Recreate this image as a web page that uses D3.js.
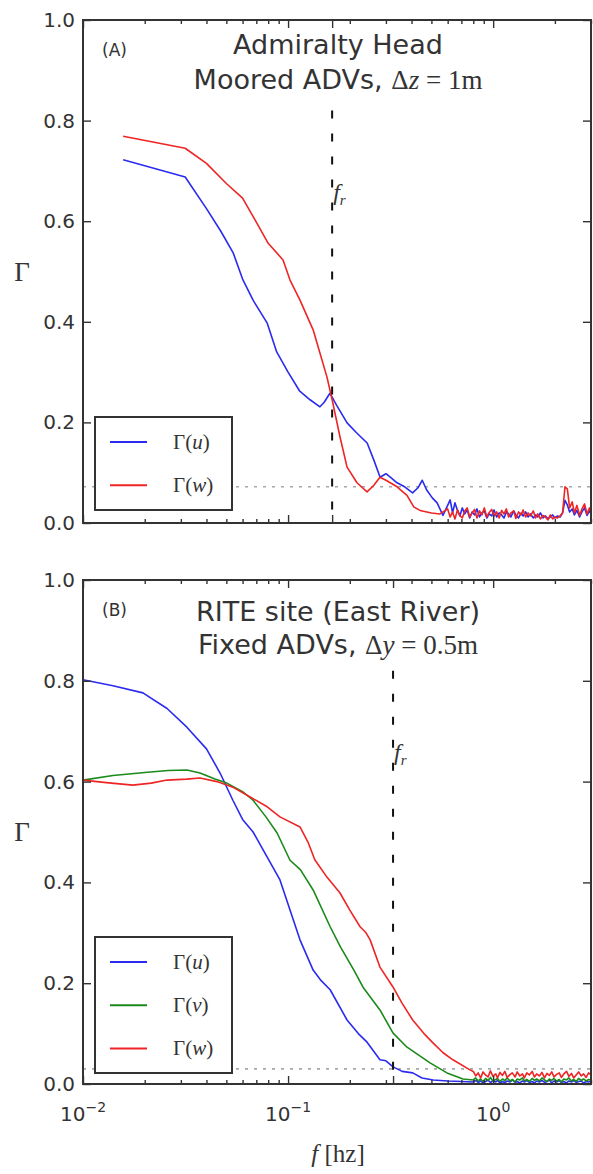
<!DOCTYPE html>
<html>
<head>
<meta charset="utf-8">
<script src="https://cdn.jsdelivr.net/npm/d3@7"></script>
<style>
  body { margin: 0; background: #fff; }
  svg { display: block; }
</style>
</head>
<body>
<svg id="fig" width="593" height="1174"></svg>
<script>
// ---------- data ----------
const xDomain = [0.01, 3];
const yTicks = [0, 0.2, 0.4, 0.6, 0.8, 1.0];
const xMajorTicks = [0.01, 0.1, 1];
const xTickLabels = [["10", "\u22122"], ["10", "\u22121"], ["10", "0"]];

// (A) Admiralty Head, moored ADVs
const frA = 0.164;
const floorA = 0.072;
const fA_u = [0.0157, 0.0315, 0.040, 0.047, 0.054, 0.060, 0.0675, 0.079, 0.088, 0.100,
              0.114, 0.128, 0.143, 0.150, 0.160, 0.172, 0.194, 0.215, 0.243, 0.262,
              0.281, 0.300, 0.315, 0.340, 0.370, 0.405, 0.430, 0.451, 0.475, 0.505,
              0.533, 0.569];
const gA_u = [0.722, 0.688, 0.625, 0.580, 0.537, 0.485, 0.443, 0.398, 0.340, 0.300,
              0.262, 0.245, 0.231, 0.240, 0.258, 0.235, 0.199, 0.180, 0.159, 0.125,
              0.091, 0.098, 0.091, 0.080, 0.072, 0.060, 0.070, 0.085, 0.065, 0.050,
              0.040, 0.015];
const fA_w = [0.0157, 0.0315, 0.040, 0.050, 0.060, 0.070, 0.080, 0.0945, 0.1022, 0.1143,
              0.1325, 0.1548, 0.164, 0.1792, 0.1939, 0.2168, 0.2427, 0.262, 0.2805, 0.300,
              0.340, 0.380, 0.410, 0.440, 0.500, 0.550];
const gA_w = [0.769, 0.745, 0.715, 0.675, 0.646, 0.598, 0.556, 0.523, 0.483, 0.443,
              0.384, 0.290, 0.245, 0.171, 0.111, 0.080, 0.062, 0.075, 0.091, 0.085,
              0.072, 0.055, 0.032, 0.025, 0.020, 0.018];
// high-frequency tail (shared frequency list for both components)
const fA_hi = [0.600, 0.617, 0.634, 0.651, 0.670, 0.688, 0.707, 0.727, 0.747, 0.768,
               0.790, 0.812, 0.834, 0.858, 0.881, 0.906, 0.931, 0.957, 0.984, 1.01,
               1.04, 1.07, 1.10, 1.13, 1.16, 1.19, 1.22, 1.26, 1.29, 1.33,
               1.37, 1.40, 1.44, 1.48, 1.52, 1.57, 1.61, 1.65, 1.70, 1.75,
               1.80, 1.85, 1.90, 1.95, 2.00, 2.06, 2.12, 2.18, 2.24, 2.30,
               2.36, 2.43, 2.49, 2.56, 2.64, 2.71, 2.79, 2.87, 2.95, 3.00];
const gA_u_hi = [0.035, 0.046, 0.020, 0.040, 0.025, 0.014, 0.030, 0.018, 0.026, 0.010,
                 0.022, 0.016, 0.028, 0.012, 0.020, 0.024, 0.010, 0.018, 0.014, 0.026,
                 0.012, 0.020, 0.016, 0.010, 0.022, 0.018, 0.012, 0.024, 0.016, 0.010,
                 0.020, 0.014, 0.022, 0.012, 0.018, 0.010, 0.016, 0.012, 0.020, 0.010,
                 0.014, 0.008, 0.012, 0.016, 0.010, 0.014, 0.012, 0.020, 0.045, 0.036,
                 0.022, 0.028, 0.016, 0.025, 0.012, 0.022, 0.030, 0.015, 0.024, 0.018];
const gA_w_hi = [0.028, 0.012, 0.022, 0.008, 0.026, 0.015, 0.010, 0.024, 0.030, 0.012,
                 0.020, 0.027, 0.010, 0.024, 0.016, 0.030, 0.012, 0.021, 0.027, 0.014,
                 0.022, 0.010, 0.025, 0.018, 0.028, 0.012, 0.020, 0.024, 0.009, 0.022,
                 0.016, 0.026, 0.012, 0.020, 0.014, 0.024, 0.010, 0.018, 0.008, 0.015,
                 0.012, 0.006, 0.016, 0.008, 0.012, 0.010, 0.014, 0.020, 0.072, 0.068,
                 0.030, 0.042, 0.020, 0.035, 0.015, 0.028, 0.038, 0.018, 0.030, 0.022];

// (B) RITE site (East River), fixed ADVs
const frB = 0.325;
const floorB = 0.030;
const fB_u = [0.0100, 0.0140, 0.0196, 0.0257, 0.0321, 0.0400, 0.0466, 0.0538, 0.0600, 0.0675,
              0.0791, 0.0913, 0.1022, 0.1143, 0.1325, 0.1450, 0.1604, 0.1939, 0.2200, 0.2427,
              0.2805, 0.3000, 0.3251, 0.3600, 0.4052, 0.4500, 0.5100, 0.6000, 0.7000];
const gB_u = [0.802, 0.790, 0.776, 0.745, 0.708, 0.665, 0.617, 0.563, 0.525, 0.500,
              0.450, 0.405, 0.345, 0.286, 0.226, 0.205, 0.187, 0.127, 0.100, 0.083,
              0.048, 0.046, 0.034, 0.025, 0.022, 0.012, 0.008, 0.006, 0.005];
const fB_v = [0.0100, 0.0140, 0.0200, 0.0260, 0.0321, 0.0372, 0.0440, 0.0503, 0.0600, 0.0675,
              0.0780, 0.0884, 0.1022, 0.1150, 0.1325, 0.1604, 0.1800, 0.2000, 0.2100, 0.2320,
              0.2805, 0.3251, 0.3803, 0.4923, 0.5957, 0.7128];
const gB_v = [0.603, 0.612, 0.618, 0.622, 0.623, 0.617, 0.605, 0.597, 0.580, 0.563,
              0.530, 0.498, 0.444, 0.425, 0.385, 0.312, 0.272, 0.240, 0.225, 0.192,
              0.147, 0.101, 0.073, 0.042, 0.022, 0.010];
const fB_w = [0.0100, 0.0130, 0.0175, 0.0215, 0.0257, 0.0320, 0.0372, 0.0450, 0.0538, 0.0650,
              0.0791, 0.0913, 0.1143, 0.1250, 0.1350, 0.1550, 0.1792, 0.2000, 0.2245, 0.2400,
              0.2513, 0.2805, 0.3251, 0.3600, 0.4052, 0.4600, 0.5100, 0.5700, 0.6365, 0.7706];
const gB_w = [0.603, 0.598, 0.593, 0.597, 0.603, 0.605, 0.607, 0.600, 0.589, 0.570,
              0.550, 0.530, 0.510, 0.480, 0.445, 0.410, 0.379, 0.345, 0.312, 0.300,
              0.286, 0.232, 0.192, 0.160, 0.127, 0.100, 0.081, 0.062, 0.048, 0.028];
const fB_hi = [0.80, 0.822, 0.845, 0.869, 0.893, 0.918, 0.944, 0.970, 0.997, 1.03,
               1.05, 1.08, 1.11, 1.14, 1.17, 1.21, 1.24, 1.28, 1.31, 1.35,
               1.39, 1.42, 1.46, 1.50, 1.55, 1.59, 1.63, 1.68, 1.73, 1.78,
               1.83, 1.88, 1.93, 1.98, 2.04, 2.10, 2.15, 2.21, 2.28, 2.34,
               2.41, 2.47, 2.54, 2.61, 2.69, 2.76, 2.84, 2.92, 3.00];
const gB_u_hi = [0.004, 0.007, 0.003, 0.006, 0.002, 0.005, 0.008, 0.003, 0.006, 0.004,
                 0.007, 0.002, 0.005, 0.003, 0.006, 0.004, 0.008, 0.003, 0.005, 0.002,
                 0.006, 0.004, 0.007, 0.003, 0.005, 0.002, 0.006, 0.004, 0.007, 0.003,
                 0.005, 0.008, 0.002, 0.006, 0.004, 0.007, 0.003, 0.005, 0.002, 0.006,
                 0.004, 0.007, 0.003, 0.005, 0.006, 0.002, 0.005, 0.004, 0.006];
const gB_v_hi = [0.008, 0.012, 0.006, 0.010, 0.005, 0.011, 0.007, 0.013, 0.006, 0.009,
                 0.011, 0.005, 0.010, 0.007, 0.012, 0.006, 0.009, 0.004, 0.010, 0.008,
                 0.012, 0.006, 0.009, 0.005, 0.011, 0.007, 0.010, 0.006, 0.012, 0.008,
                 0.005, 0.010, 0.007, 0.011, 0.006, 0.009, 0.004, 0.010, 0.008, 0.012,
                 0.006, 0.009, 0.005, 0.011, 0.007, 0.010, 0.006, 0.009, 0.008];
const gB_w_hi = [0.025, 0.016, 0.022, 0.012, 0.024, 0.018, 0.014, 0.026, 0.015, 0.020,
                 0.012, 0.023, 0.017, 0.025, 0.013, 0.019, 0.022, 0.014, 0.024, 0.016,
                 0.020, 0.012, 0.022, 0.018, 0.025, 0.014, 0.020, 0.016, 0.023, 0.012,
                 0.021, 0.017, 0.024, 0.014, 0.019, 0.022, 0.013, 0.020, 0.025, 0.015,
                 0.021, 0.012, 0.018, 0.024, 0.016, 0.020, 0.013, 0.022, 0.018];

// ---------- styling ----------
const SANS = "'DejaVu Sans', 'Bitstream Vera Sans', sans-serif";
const SERIF = "'Liberation Serif', 'DejaVu Serif', serif";
const INK = "#333";
const colors = { u: "#2b2bef", v: "#1b8a1b", w: "#ef2424" };

const svg = d3.select("#fig");
const x = d3.scaleLog().domain(xDomain).range([83, 591]);

function pts(f, g) { return f.map((d, i) => [d, g[i]]); }

const panels = [
  {
    top: 20, bottom: 523, tag: "(A)", fr: frA, floor: floorA,
    title1: "Admiralty Head", title2: "Moored ADVs, ", mathVar: "z", mathVal: "1m",
    titleY: [54, 89],
    legend: { top: 417, bottom: 510 },
    series: [
      { key: "u", label: "u", pts: pts(fA_u, gA_u).concat(pts(fA_hi, gA_u_hi)) },
      { key: "w", label: "w", pts: pts(fA_w, gA_w).concat(pts(fA_hi, gA_w_hi)) }
    ],
    xLabels: false
  },
  {
    top: 580, bottom: 1084, tag: "(B)", fr: frB, floor: floorB,
    title1: "RITE site (East River)", title2: "Fixed ADVs, ", mathVar: "y", mathVal: "0.5m",
    titleY: [621, 654],
    legend: { top: 937, bottom: 1073 },
    series: [
      { key: "u", label: "u", pts: pts(fB_u, gB_u).concat(pts(fB_hi, gB_u_hi)) },
      { key: "v", label: "v", pts: pts(fB_v, gB_v).concat(pts(fB_hi, gB_v_hi)) },
      { key: "w", label: "w", pts: pts(fB_w, gB_w).concat(pts(fB_hi, gB_w_hi)) }
    ],
    xLabels: true
  }
];

// minor ticks of the log axis (2..9 within each decade)
const xMinor = [];
[0.01, 0.1, 1].forEach(dec => {
  for (let k = 2; k <= 9; k++) {
    const v = dec * k;
    if (v <= xDomain[1]) xMinor.push(v);
  }
});

function styleAxis(sel) {
  sel.select(".domain").remove();
  sel.selectAll(".tick line").attr("stroke", INK).attr("stroke-width", 1.4);
  sel.selectAll("text").attr("font-family", SANS).attr("font-size", 20).attr("fill", INK);
}

panels.forEach(p => {
  const y = d3.scaleLinear().domain([0, 1]).range([p.bottom, p.top]);
  const [x0, x1] = x.range();
  const g = svg.append("g");

  // noise-floor reference
  g.append("line")
    .attr("x1", x0).attr("x2", x1)
    .attr("y1", y(p.floor)).attr("y2", y(p.floor))
    .attr("stroke", "#a8a8a8").attr("stroke-width", 1.6)
    .attr("stroke-dasharray", "3,6");

  // coherence curves
  const line = d3.line().x(d => x(d[0])).y(d => y(d[1]));
  p.series.forEach(s => {
    g.append("path").datum(s.pts)
      .attr("d", line)
      .attr("fill", "none")
      .attr("stroke", colors[s.key])
      .attr("stroke-width", 1.6)
      .attr("stroke-linejoin", "round");
  });

  // cutoff frequency f_r
  g.append("line")
    .attr("x1", x(p.fr)).attr("x2", x(p.fr))
    .attr("y1", y(0.82)).attr("y2", y(0))
    .attr("stroke", "#111").attr("stroke-width", 2)
    .attr("stroke-dasharray", "8,15");
  const fr = g.append("text")
    .attr("x", x(p.fr) + 1).attr("y", y(0.66) + 9)
    .attr("font-family", SERIF).attr("font-size", 24).attr("fill", INK);
  fr.append("tspan").attr("font-style", "italic").text("f");
  fr.append("tspan").attr("font-style", "italic").attr("font-size", 15).attr("dy", 5).text("r");

  // axes: ticks point inward on all four sides
  const yLeft = g.append("g").attr("transform", `translate(${x0},0)`)
    .call(d3.axisLeft(y).tickValues(yTicks).tickSizeInner(-8).tickSizeOuter(0)
      .tickPadding(8).tickFormat(d3.format(".1f")));
  styleAxis(yLeft);
  const yRight = g.append("g").attr("transform", `translate(${x1},0)`)
    .call(d3.axisRight(y).tickValues(yTicks).tickSizeInner(-8).tickSizeOuter(0).tickFormat(""));
  styleAxis(yRight);

  const majors = xMajorTicks.concat([p.fr]);
  [["bottom", p.bottom, d3.axisBottom], ["top", p.top, d3.axisTop]].forEach(([side, yy, ax]) => {
    const a1 = g.append("g").attr("transform", `translate(0,${yy})`)
      .call(ax(x).tickValues(majors).tickSizeInner(-8).tickSizeOuter(0).tickFormat(""));
    styleAxis(a1);
    const a2 = g.append("g").attr("transform", `translate(0,${yy})`)
      .call(ax(x).tickValues(xMinor).tickSizeInner(-4).tickSizeOuter(0).tickFormat(""));
    styleAxis(a2);
  });

  // frame
  g.append("rect")
    .attr("x", x0).attr("y", p.top)
    .attr("width", x1 - x0).attr("height", p.bottom - p.top)
    .attr("fill", "none").attr("stroke", INK).attr("stroke-width", 2);

  // y label
  g.append("text")
    .attr("x", 22).attr("y", (p.top + p.bottom) / 2 + 9)
    .attr("text-anchor", "middle")
    .attr("font-family", SERIF).attr("font-size", 27).attr("fill", INK)
    .text("\u0393");

  // panel tag and titles
  g.append("text")
    .attr("x", 102).attr("y", p.top + 36)
    .attr("font-family", SANS).attr("font-size", 17).attr("fill", INK)
    .text(p.tag);
  const cx = (x0 + x1) / 2 + 1;
  g.append("text")
    .attr("x", cx).attr("y", p.titleY[0])
    .attr("text-anchor", "middle")
    .attr("font-family", SANS).attr("font-size", 27).attr("fill", INK)
    .text(p.title1);
  const t2 = g.append("text")
    .attr("x", cx).attr("y", p.titleY[1])
    .attr("text-anchor", "middle")
    .attr("font-family", SANS).attr("font-size", 27).attr("fill", INK);
  t2.append("tspan").text(p.title2);
  t2.append("tspan").attr("font-family", SERIF).text("\u0394");
  t2.append("tspan").attr("font-family", SERIF).attr("font-style", "italic").text(p.mathVar);
  t2.append("tspan").attr("font-family", SERIF).text(" = " + p.mathVal);

  // legend
  const L = p.legend;
  const lg = g.append("g");
  lg.append("rect")
    .attr("x", 95).attr("y", L.top)
    .attr("width", 137).attr("height", L.bottom - L.top)
    .attr("fill", "#fff").attr("stroke", INK).attr("stroke-width", 2);
  const n = p.series.length;
  const step = (L.bottom - L.top) / (n + 0.15);
  p.series.forEach((s, i) => {
    const yy = L.top + step * (i + 0.58);
    lg.append("line")
      .attr("x1", 110).attr("x2", 147).attr("y1", yy).attr("y2", yy)
      .attr("stroke", colors[s.key]).attr("stroke-width", 2);
    const t = lg.append("text")
      .attr("x", 173).attr("y", yy + 7)
      .attr("font-family", SERIF).attr("font-size", 21).attr("fill", INK);
    t.append("tspan").text("\u0393(");
    t.append("tspan").attr("font-style", "italic").text(s.label);
    t.append("tspan").text(")");
  });

  // x tick labels and axis label on the lower panel only
  if (p.xLabels) {
    xMajorTicks.forEach((v, i) => {
      const t = g.append("text")
        .attr("x", x(v)).attr("y", p.bottom + 37)
        .attr("text-anchor", "middle")
        .attr("font-family", SANS).attr("font-size", 20).attr("fill", INK);
      t.append("tspan").text(xTickLabels[i][0]);
      t.append("tspan").attr("font-size", 14).attr("dy", -9).text(xTickLabels[i][1]);
    });
    const xl = g.append("text")
      .attr("x", cx).attr("y", p.bottom + 78)
      .attr("text-anchor", "middle")
      .attr("font-family", SERIF).attr("font-size", 25).attr("fill", INK);
    xl.append("tspan").attr("font-style", "italic").text("f");
    xl.append("tspan").text(" [hz]");
  }
});
</script>
</body>
</html>
